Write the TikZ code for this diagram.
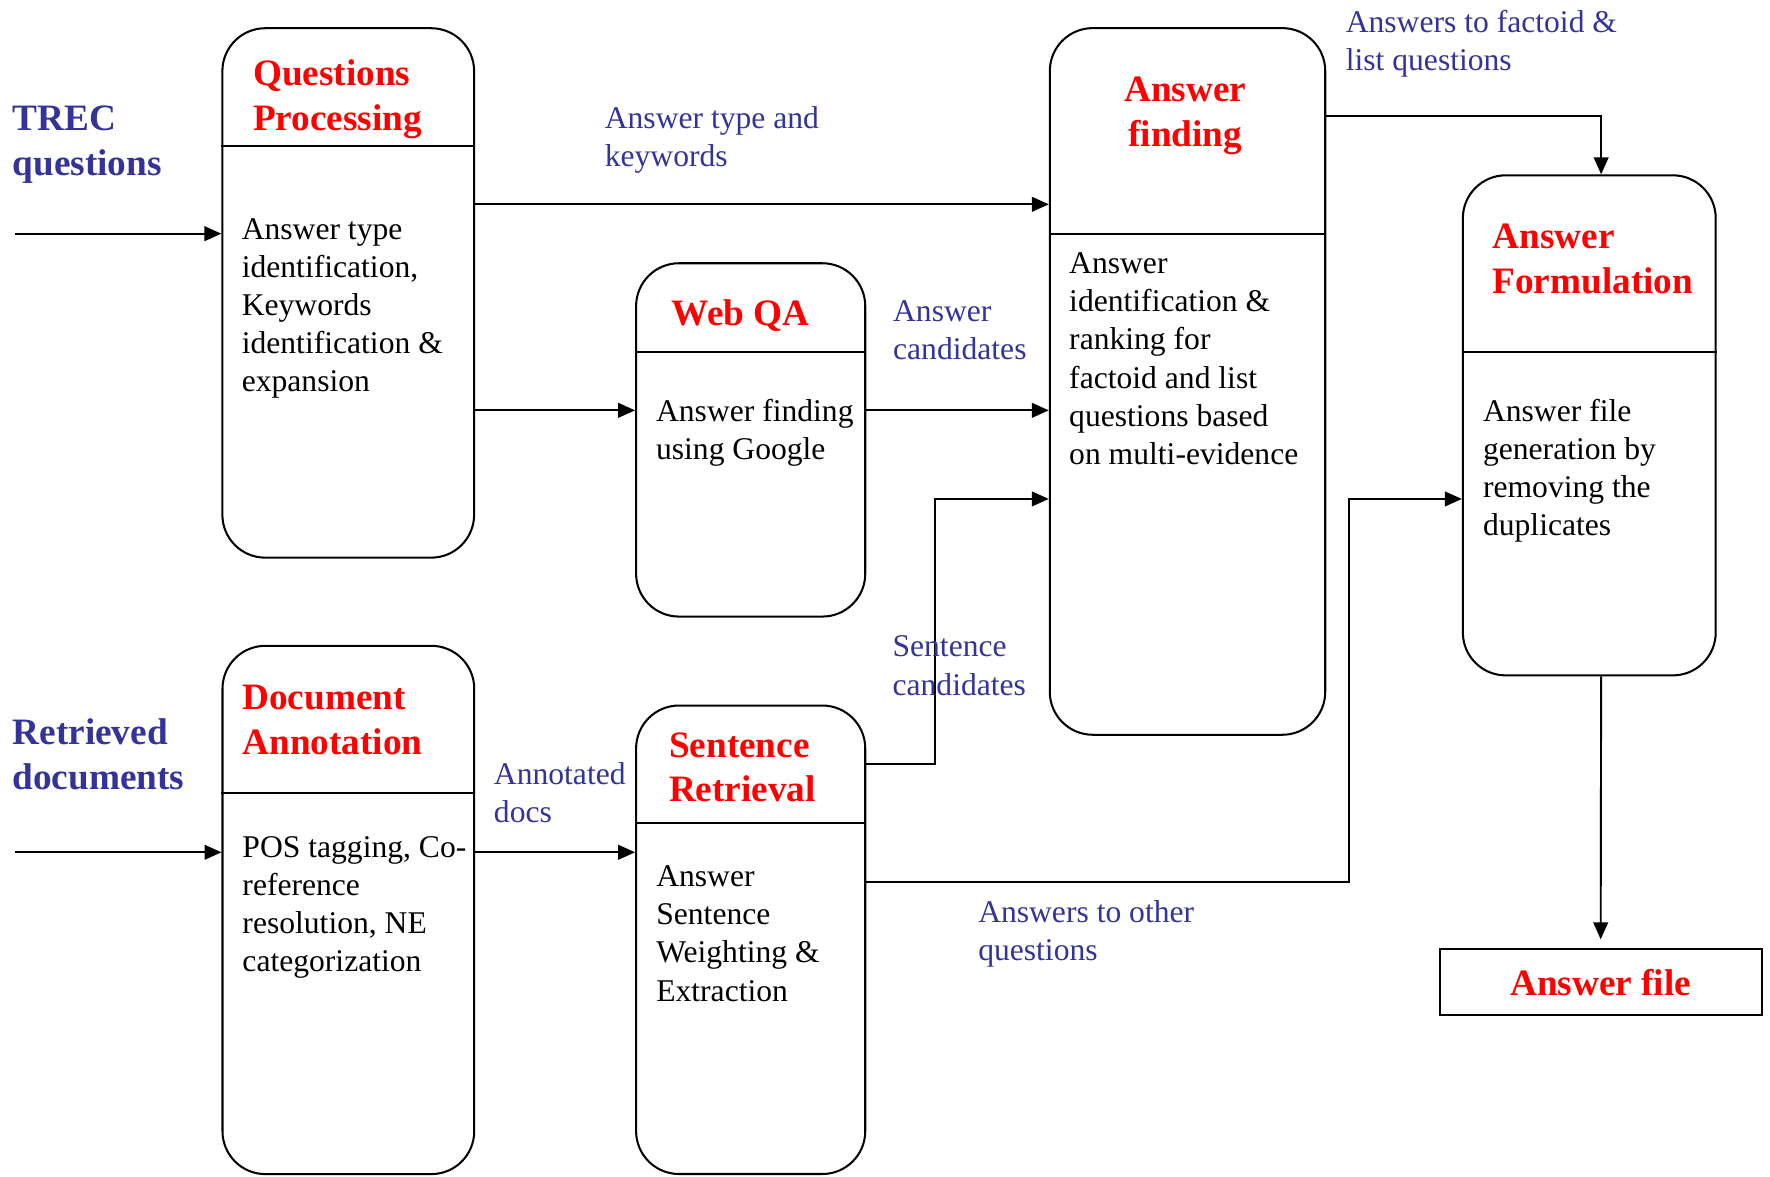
\documentclass[tikz,border=0pt]{standalone}
\usepackage{fontspec}
\setmainfont{Liberation Serif}
\usetikzlibrary{arrows.meta}
\definecolor{labelblue}{RGB}{51,51,153}

\begin{document}
\begin{tikzpicture}[x=1pt,y=-1pt,
  stagebox/.style={draw, line width=1.8pt, rounded corners=38pt, inner sep=0pt},
  stagetitle/.style={anchor=base west, align=left, inner sep=0pt, text=red,
    font=\fontsize{33}{39.5}\selectfont\bfseries},
  stagetext/.style={anchor=base west, align=left, inner sep=0pt,
    font=\fontsize{28}{33.8}\selectfont},
  flowlabel/.style={stagetext, text=labelblue},
  inlabel/.style={stagetitle, text=labelblue}]
\tikzset{flow/.style={-{Triangle[length=15pt,width=13pt]}, line width=1.7pt}}
\tikzset{divider/.style={line width=1.8pt}}
\useasboundingbox (0,0) rectangle (1568,1042);
% stages
\node[stagebox, minimum width=223pt, minimum height=469pt] (qp) at (308.5,259.5) {};
\node[stagebox, minimum width=203pt, minimum height=313pt] (webqa) at (665,389.7) {};
\node[stagebox, minimum width=244pt, minimum height=626pt] (af) at (1052,337.9) {};
\node[stagebox, minimum width=224pt, minimum height=443pt] (afm) at (1407.9,376.8) {};
\node[stagebox, minimum width=223pt, minimum height=468pt] (da) at (308.6,806.1) {};
\node[stagebox, minimum width=203pt, minimum height=415pt] (sr) at (665,832.5) {};
\node[draw, line width=1.8pt, inner sep=0pt, minimum width=285pt, minimum height=59pt,
  text=red, font=\fontsize{33}{39.5}\selectfont\bfseries] (afile) at (1418,870) {Answer file};
\draw[divider] (qp.west |- 0,129) -- (qp.east |- 0,129);
\draw[divider] (webqa.west |- 0,311.5) -- (webqa.east |- 0,311.5);
\draw[divider] (af.west |- 0,207) -- (af.east |- 0,207);
\draw[divider] (afm.west |- 0,311.5) -- (afm.east |- 0,311.5);
\draw[divider] (da.west |- 0,702.5) -- (da.east |- 0,702.5);
\draw[divider] (sr.west |- 0,729) -- (sr.east |- 0,729);
% titles and texts (base = last line)
\node[stagetitle] (qptitle) at (224,115.5) {Questions\\Processing};
\node[stagetext] (qptext) at (214,347.2) {Answer type\\identification,\\Keywords\\identification \&\\expansion};
\node[stagetitle] (webqatitle) at (595,288) {Web QA};
\node[stagetext] (webqatext) at (581,407.4) {Answer finding\\using Google};
\node[stagetitle, anchor=base, align=center] (aftitle) at (1050,129.5) {Answer\\finding};
\node[stagetext] (aftext) at (947,411.4) {Answer\\identification \&\\ranking for\\factoid and list\\questions based\\on multi-evidence};
\node[stagetitle] (afmtitle) at (1322,259.9) {Answer\\Formulation};
\node[stagetext] (afmtext) at (1313.6,474.4) {Answer file\\generation by\\removing the\\duplicates};
\node[stagetitle] (datitle) at (214.6,668) {Document\\Annotation};
\node[stagetext] (datext) at (214.6,860.8) {POS tagging, Co-\\reference\\resolution, NE\\categorization};
\node[stagetitle] (srtitle) at (592.5,710.3) {Sentence\\Retrieval};
\node[stagetext] (srtext) at (581.2,886.8) {Answer\\Sentence\\Weighting \&\\Extraction};
% inputs
\node[inlabel] (treclabel) at (11,155.5) {TREC\\questions};
\node[inlabel] (doclabel) at (11,699) {Retrieved\\documents};
\coordinate (trecin) at (13,207);
\coordinate (docin) at (13,755);
\draw[flow] (trecin) -- (qp.west |- trecin);
\draw[flow] (docin) -- (da.west |- docin);
% flows
\draw[flow] (qp.east |- 0,181) -- (af.west |- 0,181);
\draw[flow] (qp.east |- 0,363.5) -- (webqa.west |- 0,363.5);
\draw[flow] (webqa.east |- 0,363.5) -- (af.west |- 0,363.5);
\draw[flow] (da.east |- 0,755) -- (sr.west |- 0,755);
\draw[flow] (sr.east |- 0,677) -- ++(61,0) |- (af.west |- 0,442);
\draw[flow] (sr.east |- 0,781.5) -- ++(427.5,0) |- (afm.west |- 0,442);
\draw[flow] (af.east |- 0,103) -| ([xshift=10.5pt]afm.north);
\draw[flow] ([xshift=10.5pt]afm.south) -- ([yshift=7.5pt]afile.north);
\node[flowlabel] (kwlabel) at (535.6,147.8) {Answer type and\\keywords};
\node[flowlabel] (candlabel) at (791,318.6) {Answer\\candidates};
\node[flowlabel] (factlabel) at (1192,62.3) {Answers to factoid \&\\list questions};
\node[flowlabel] (sentlabel) at (790.5,615.8) {Sentence\\candidates};
\node[flowlabel] (annlabel) at (437.4,729) {Annotated\\docs};
\node[flowlabel] (otherlabel) at (866.4,851.1) {Answers to other\\questions};
\end{tikzpicture}
\end{document}
